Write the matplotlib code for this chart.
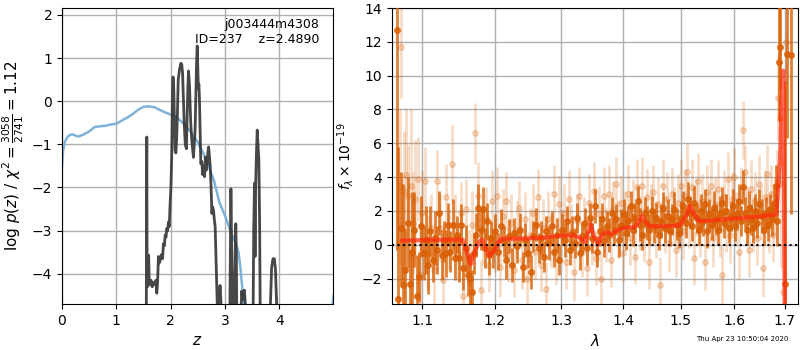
import numpy as np
import matplotlib
matplotlib.use("Agg")
import matplotlib.pyplot as plt
from matplotlib.ticker import NullLocator, FixedLocator, FixedFormatter

# ---------------- Left panel data: log p(z) ----------------
blue_z = [0.0, 0.02, 0.05, 0.1, 0.15, 0.2, 0.25, 0.3, 0.4, 0.5, 0.6, 0.7, 0.8, 0.9,
          1.0, 1.1, 1.2, 1.3, 1.4, 1.5, 1.6, 1.7, 1.8, 1.9, 2.0, 2.1, 2.2, 2.3, 2.4,
          2.5, 2.6, 2.7, 2.8, 2.9, 3.0, 3.1, 3.2, 3.25, 3.28, 3.31, 3.34, 3.37, 3.5,
          4.0, 4.5, 4.9, 4.97, 5.0]
blue_lnp = [-1.5, -1.15, -0.95, -0.83, -0.78, -0.77, -0.8, -0.82, -0.77, -0.7, -0.6,
            -0.58, -0.57, -0.54, -0.52, -0.45, -0.38, -0.3, -0.2, -0.13, -0.12, -0.14,
            -0.2, -0.26, -0.31, -0.37, -0.47, -0.6, -0.76, -0.95, -1.2, -1.5, -1.85,
            -2.35, -2.65, -3.0, -3.3, -3.5, -3.8, -4.2, -4.6, -5.2, -7.0,
            -8.0, -7.5, -5.5, -4.9, -4.5]

black_z = [1.550, 1.556, 1.561, 1.566, 1.575, 1.585, 1.595, 1.605, 1.62, 1.64, 1.66,
           1.69, 1.714, 1.73, 1.745, 1.76, 1.776, 1.79, 1.806, 1.82, 1.837, 1.852,
           1.868, 1.885, 1.90, 1.915, 1.93, 1.945, 1.96, 1.975, 1.99, 2.005, 2.02,
           2.032, 2.04, 2.05, 2.06, 2.072, 2.083, 2.097, 2.11, 2.125, 2.14, 2.165,
           2.19, 2.205, 2.22, 2.235, 2.25, 2.27, 2.29, 2.30, 2.315, 2.33, 2.35, 2.37,
           2.39, 2.42, 2.435, 2.45, 2.465, 2.478, 2.49, 2.50, 2.51, 2.52, 2.53, 2.544,
           2.556, 2.575, 2.59, 2.605, 2.625, 2.64, 2.655, 2.667, 2.685, 2.70, 2.715,
           2.73, 2.745, 2.76, 2.775, 2.79, 2.805, 2.82, 2.835, 2.85, 2.865, 2.88, 2.895,
           2.91, 2.925, 2.94, 2.96, 3.07, 3.09, 3.11, 3.125, 3.14, 3.16, 3.18, 3.20,
           3.21, 3.225, 3.24, 3.27, 3.29, 3.31, 3.325, 3.34, 3.36, 3.375, 3.39, 3.51,
           3.53, 3.545, 3.555, 3.565, 3.58, 3.595, 3.61, 3.625, 3.64, 3.655, 3.67, 3.69,
           3.81, 3.83, 3.86, 3.885, 3.91, 3.93, 3.95, 3.97, 3.99]
black_lnp = [-6.0, -3.0, -0.83, -3.5, -4.3, -4.2, -3.57, -4.1, -4.25, -4.15, -4.3,
             -4.2, -4.25, -4.15, -4.45, -4.2, -3.6, -3.75, -3.7, -3.6, -3.55, -3.65,
             -3.3, -3.35, -3.1, -3.15, -2.95, -3.0, -2.8, -2.9, -2.4, -2.0, -1.3,
             -0.2, 0.56, 0.55, 0.2, -0.6, -1.15, -1.2, -0.9, -0.3, 0.5, 0.75,
             0.88, 0.85, 0.65, 0.1, -0.5, -1.0, -1.1, -0.6, 0.2, 0.7, 0.3, -0.5,
             -0.9, -1.3, -1.0, -0.7, 0.2, 0.9, 1.28, 0.8, 0.3, 0.4, 0.1, -0.75,
             -1.45, -1.4, -1.7, -1.5, -1.75, -1.3, -1.6, -1.5, -1.2, -1.06, -1.3,
             -1.52, -2.0, -2.6, -2.45, -2.53, -2.75, -2.9, -3.6, -4.3, -5.0, -5.5, -4.6,
             -4.27, -4.6, -5.5, -6.5, -6.5, -5.0, -2.03, -3.5, -6.0, -6.0, -4.0, -2.84,
             -3.5, -6.0, -6.5, -6.5, -5.0, -4.4, -4.6, -4.5, -4.38, -4.7, -6.5, -6.5,
             -3.0, -1.9, -3.6, -2.0, -1.2, -0.67, -1.0, -1.37, -3.0, -6.0, -6.5, -6.5,
             -6.5, -5.0, -3.85, -3.65, -3.65, -3.9, -4.6, -6.0, -6.5]

# ---------------- Right panel data: spectrum ----------------
wave_dark = [1.067, 1.069, 1.072, 1.075, 1.078, 1.081, 1.084, 1.087, 1.090, 1.093,
             1.096, 1.099, 1.102, 1.105, 1.108, 1.111, 1.114, 1.117, 1.120, 1.123,
             1.126, 1.129, 1.132, 1.135, 1.138, 1.141, 1.144, 1.147, 1.150, 1.153,
             1.156, 1.159, 1.162, 1.165, 1.168, 1.171, 1.174, 1.177, 1.180, 1.183,
             1.186, 1.189, 1.192, 1.195, 1.198, 1.201, 1.205, 1.209, 1.213, 1.217,
             1.221, 1.225, 1.229, 1.233, 1.237, 1.241, 1.245, 1.249, 1.253, 1.257,
             1.261, 1.265, 1.269, 1.273, 1.277, 1.281, 1.285, 1.289, 1.293, 1.297,
             1.301, 1.305, 1.309, 1.313, 1.317, 1.321, 1.325, 1.329, 1.333, 1.337,
             1.341, 1.345, 1.349, 1.353, 1.357, 1.361, 1.365, 1.369, 1.373, 1.377,
             1.381, 1.385, 1.389, 1.393, 1.397, 1.401, 1.405, 1.409, 1.413, 1.417,
             1.421, 1.425, 1.429, 1.433, 1.437, 1.441, 1.445, 1.449, 1.453, 1.457,
             1.461, 1.465, 1.469, 1.473, 1.477, 1.481, 1.485, 1.489, 1.493, 1.497,
             1.501, 1.505, 1.509, 1.513, 1.517, 1.521, 1.525, 1.529, 1.533, 1.537,
             1.541, 1.545, 1.549, 1.553, 1.557, 1.561, 1.565, 1.569, 1.573, 1.577,
             1.581, 1.585, 1.589, 1.593, 1.597, 1.601, 1.605, 1.609, 1.613, 1.617,
             1.621, 1.625, 1.629, 1.633, 1.637, 1.641, 1.645, 1.649, 1.653, 1.657,
             1.661, 1.665, 1.669, 1.673, 1.677, 1.681, 1.685, 1.688, 1.691, 1.700,
             1.705, 1.713]
flux_dark = [12.7, -3.2, 1.0, -2.4, -1.5, 1.3, -2.3, -0.4, 0.9, -3.0,
             -1.9, 1.1, -0.5, 0.3, -1.2, 0.8, -0.9, 0.4, -0.3, 1.9,
             -0.6, 0.2, -0.5, 1.2, -0.4, 1.2, -0.8, 0.6, -0.8, 1.2,
             -1.4, -0.2, -1.8, -2.0, -2.8, -0.5, 0.6, 2.2, 0.9, 2.1,
             -0.2, 1.4, -0.6, 0.4, -0.3, 0.8, -0.4, 1.1, 0.2, -0.9,
             0.5, -1.2, 0.7, -0.1, 0.9, -1.3, 0.3, -0.5, -1.6, 0.5,
             1.2, -0.2, 0.4, -0.7, 0.8, 0.1, 1.1, -0.4, 0.6, -0.9,
             0.9, 0.3, 1.4, -0.3, 0.7, 0.1, 1.6, -0.5, 0.5, 1.3,
             -0.2, 1.6, 0.4, 2.3, -0.4, 0.8, 1.5, 0.2, 1.1, 0.6,
             1.9, 0.9, 1.5, 0.3, 1.2, 1.8, 0.7, 1.4, 2.3, 0.9,
             1.6, 2.6, 1.2, 0.6, 1.9, 1.3, 0.9, 2.0, 1.1, 1.6,
             0.6, 1.4, 2.2, 1.0, 1.7, 0.8, 1.5, 2.1, 1.2, 0.7,
             1.6, 2.3, 1.3, 2.7, 1.9, 1.1, 2.5, 1.6, 0.9, 2.0,
             1.4, 2.4, 0.8, 1.8, 1.2, 2.2, 1.5, 0.9, 1.9, 2.5,
             1.3, 2.0, 1.0, 1.7, 2.3, 1.1, 1.8, 2.6, 1.4, 3.4,
             1.9, 0.9, 2.2, 1.5, 1.0, 2.0, 1.3, 2.4, 1.7, 0.9,
             1.9, 1.2, 2.1, 1.5, 2.5, 3.5, 1.4, 10.8, 11.7, -2.3,
             11.3, 11.2]
err_dark = [13.0, 9.0, 3.3, 6.0, 2.5, 2.7, 2.0, 3.5, 2.2, 2.4,
            1.5, 1.8, 1.6, 2.0, 1.7, 1.5, 1.3, 1.6, 1.4, 1.3,
            1.5, 1.2, 1.4, 1.3, 1.2, 1.5, 1.3, 1.1, 1.4, 1.2,
            1.3, 1.4, 1.2, 1.5, 1.3, 1.2, 1.3, 1.4, 1.2, 1.3,
            1.2, 1.1, 1.2, 1.0, 1.1, 1.0, 1.1, 1.0, 0.9, 1.1,
            1.0, 1.0, 0.9, 1.0, 1.0, 0.9, 1.0, 0.9, 1.0, 0.9,
            1.0, 0.9, 1.0, 0.9, 0.9, 1.0, 0.9, 0.9, 1.0, 0.9,
            0.9, 1.0, 0.9, 0.9, 1.0, 0.9, 0.9, 1.0, 0.9, 0.9,
            1.0, 0.9, 0.9, 1.0, 0.9, 0.9, 1.0, 0.9, 0.9, 1.0,
            0.9, 0.9, 0.9, 1.0, 0.9, 0.9, 1.0, 0.9, 0.9, 1.0,
            0.9, 0.9, 1.0, 0.9, 0.9, 1.0, 0.9, 0.9, 1.0, 0.9,
            0.9, 1.0, 0.9, 0.9, 1.0, 0.9, 0.9, 1.0, 0.9, 0.9,
            1.0, 0.9, 0.9, 1.0, 0.9, 0.9, 1.0, 0.9, 0.9, 1.0,
            0.9, 0.9, 1.0, 0.9, 0.9, 1.0, 0.9, 0.9, 1.0, 0.9,
            0.9, 1.0, 0.9, 0.9, 1.0, 0.9, 0.9, 1.0, 0.9, 1.0,
            0.9, 0.9, 1.0, 0.9, 0.9, 1.0, 0.9, 0.9, 1.0, 0.9,
            0.9, 1.0, 0.9, 1.0, 1.1, 1.2, 1.5, 3.5, 2.5, 12.0,
            5.0, 9.4]

wave_light = [1.071, 1.073, 1.076, 1.079, 1.082, 1.085, 1.088, 1.091, 1.094, 1.097,
              1.100, 1.104, 1.108, 1.112, 1.116, 1.120, 1.124, 1.128, 1.132, 1.136,
              1.140, 1.144, 1.148, 1.152, 1.156, 1.160, 1.164, 1.168, 1.172, 1.176,
              1.180, 1.184, 1.188, 1.192, 1.196, 1.200, 1.204, 1.208, 1.212, 1.216,
              1.220, 1.224, 1.228, 1.232, 1.236, 1.240, 1.244, 1.248, 1.252, 1.256,
              1.260, 1.264, 1.268, 1.272, 1.276, 1.280, 1.284, 1.288, 1.292, 1.296,
              1.300, 1.304, 1.308, 1.312, 1.316, 1.320, 1.324, 1.328, 1.332, 1.336,
              1.340, 1.344, 1.348, 1.352, 1.356, 1.360, 1.364, 1.368, 1.372, 1.376,
              1.380, 1.384, 1.388, 1.392, 1.396, 1.400, 1.404, 1.408, 1.412, 1.416,
              1.420, 1.424, 1.428, 1.432, 1.436, 1.440, 1.444, 1.448, 1.452, 1.456,
              1.460, 1.464, 1.468, 1.472, 1.476, 1.480, 1.484, 1.488, 1.492, 1.496,
              1.500, 1.504, 1.508, 1.512, 1.516, 1.520, 1.524, 1.528, 1.532, 1.536,
              1.540, 1.544, 1.548, 1.552, 1.556, 1.560, 1.564, 1.568, 1.572, 1.576,
              1.580, 1.584, 1.588, 1.592, 1.596, 1.600, 1.604, 1.608, 1.612, 1.616,
              1.620, 1.624, 1.628, 1.632, 1.636, 1.640, 1.644, 1.648, 1.652, 1.656,
              1.660, 1.664, 1.668, 1.672, 1.676, 1.680, 1.684, 1.687, 1.690, 1.693,
              1.697, 1.702]
flux_light = [3.5, 11.7, 3.2, 4.1, 2.9, 3.5, 1.3, 2.7, 3.9, -1.7,
              1.9, 3.8, -0.5, 1.0, -1.5, 3.8, 1.0, -2.1, 2.8, 0.3,
              4.8, 1.2, -0.5, 1.9, -3.0, 2.1, -0.8, 1.2, 6.6, 2.9,
              -2.7, 0.5, 1.6, -1.2, 2.6, 0.0, 2.9, -1.3, 1.7, 2.6,
              -0.6, 1.3, -1.5, 0.9, 2.2, -0.9, 1.5, -2.0, 0.6, 1.9,
              -0.4, 2.8, -1.2, 1.0, -2.6, 1.5, 0.2, 3.0, -0.8, 2.4,
              0.5, 1.9, -1.0, 2.7, 0.8, -1.6, 1.4, 2.9, -0.3, 1.1,
              -1.4, 2.5, 0.4, 3.2, -0.8, 1.8, -2.0, 2.9, 0.6, 3.0,
              -0.9, 2.1, 3.6, 0.9, 2.5, -0.5, 1.6, 3.0, 0.4, 2.2,
              -0.7, 3.4, 1.3, 3.5, 0.6, 2.8, -1.0, 1.9, 3.1, 0.9,
              2.4, -2.4, 3.5, 1.2, 2.7, 0.1, 3.0, 1.7, -0.3, 2.5,
              3.5, 0.8, 2.9, 4.3, 1.4, 3.4, -0.8, 2.2, 3.8, 1.0,
              2.6, -1.0, 3.1, 1.6, 3.5, 0.4, 2.4, 3.3, 0.9, -1.8,
              2.8, 1.3, 3.9, 0.6, 2.7, 4.0, 1.5, -0.4, 3.0, 6.8,
              4.3, 1.8, -0.3, 3.3, 1.2, 2.6, 0.4, 3.6, 1.9, -1.4,
              2.8, 4.2, 1.1, 3.0, 0.6, 2.3, 3.8, 8.7, 7.5, 3.6,
              -2.8, 12.0]
err_light = [4.5, 3.0, 3.5, 4.0, 3.0, 4.5, 3.0, 3.5, 2.5, 3.0,
             2.5, 2.0, 2.2, 2.0, 2.2, 1.8, 2.0, 1.8, 2.0, 1.8,
             2.3, 1.8, 1.6, 1.8, 1.6, 1.8, 1.7, 2.0, 1.8, 2.0,
             1.8, 1.7, 1.8, 1.6, 1.8, 1.6, 1.7, 1.8, 1.6, 1.7,
             1.6, 1.7, 1.6, 1.7, 1.6, 1.7, 1.6, 1.7, 1.6, 1.7,
             1.6, 1.7, 1.6, 1.7, 1.6, 1.7, 1.6, 1.7, 1.6, 1.7,
             1.6, 1.7, 1.6, 1.7, 1.6, 1.7, 1.6, 1.7, 1.6, 1.7,
             1.6, 1.7, 1.6, 1.7, 1.6, 1.7, 1.6, 1.7, 1.6, 1.7,
             1.6, 1.7, 1.6, 1.7, 1.6, 1.7, 1.6, 1.7, 1.6, 1.7,
             1.6, 1.7, 1.6, 1.7, 1.6, 1.7, 1.6, 1.7, 1.6, 1.7,
             1.6, 1.7, 1.6, 1.7, 1.6, 1.7, 1.6, 1.7, 1.6, 1.7,
             1.6, 1.7, 1.6, 1.7, 1.6, 1.7, 1.6, 1.7, 1.6, 1.7,
             1.6, 1.7, 1.6, 1.7, 1.6, 1.7, 1.6, 1.7, 1.6, 1.7,
             1.6, 1.7, 1.6, 1.7, 1.6, 1.7, 1.6, 1.7, 1.6, 1.7,
             1.6, 1.7, 1.6, 1.7, 1.6, 1.7, 1.6, 1.7, 1.6, 1.7,
             1.6, 1.7, 1.6, 1.7, 1.6, 1.7, 1.8, 2.5, 4.0, 5.0,
             8.0, 4.0]

model_wave = [1.074, 1.100, 1.130, 1.155, 1.160, 1.166, 1.172, 1.178, 1.182, 1.187,
              1.193, 1.200, 1.206, 1.211, 1.250, 1.280, 1.300, 1.320, 1.330, 1.338,
              1.343, 1.347, 1.352, 1.358, 1.364, 1.369, 1.375, 1.380, 1.390, 1.400,
              1.420, 1.427, 1.432, 1.437, 1.445, 1.470, 1.499, 1.508, 1.517, 1.525,
              1.533, 1.560, 1.600, 1.640, 1.683, 1.690, 1.694, 1.697, 1.700]
model_flux = [0.25, 0.28, 0.3, 0.3, -0.3, -1.15, -0.4, 0.2, 0.3, -0.2,
              -0.65, -0.3, 0.2, 0.35, 0.38, 0.45, 0.55, 0.55, 0.4, 0.15,
              0.8, 1.2, 0.5, 0.0, 0.5, 0.7, 0.75, 0.6, 0.85, 1.0,
              1.05, 1.4, 1.7, 1.4, 1.1, 1.1, 1.15, 1.6, 2.3, 1.8,
              1.4, 1.45, 1.55, 1.65, 1.8, 5.0, 9.0, 10.3, -4.0]

z_ticks = [0, 1, 2, 3, 4]
lam_ticks = [1.1, 1.2, 1.3, 1.4, 1.5, 1.6, 1.7]
lam_labels = ["1.1", "1.2", "1.3", "1.4", "1.5", "1.6", "1.7"]

ORANGE = "#d95f02"

fig = plt.figure(figsize=(8, 3.5), dpi=100)
ax1 = fig.add_axes([62/800, 46/350, 271/800, 296/350])
ax2 = fig.add_axes([392/800, 46/350, 406/800, 296/350])

# Left panel
ax1.plot(blue_z, blue_lnp, color="#7fb2d9", lw=1.8, zorder=2)
ax1.plot(black_z, black_lnp, color="0.2", lw=2.0, alpha=0.9, zorder=3)
ax1.set_xlim(0, 4.99)
ax1.set_ylim(-4.7, 2.16)
ax1.set_xticks(z_ticks)
ax1.grid(True, color="#b0b0b0", lw=1.0)
ax1.set_axisbelow(True)
ax1.set_xlabel(r"$z$", fontsize=11)
ax1.set_ylabel(r"$\log\,p(z)$ / $\chi^2=\frac{3058}{2741}=1.12$", fontsize=11)
ax1.text(0.95, 0.965, "j003444m4308\nID=237    z=2.4890", transform=ax1.transAxes,
         ha="right", va="top", fontsize=9)

# Right panel
ax2.errorbar(wave_light, flux_light, yerr=err_light, fmt="o", color=ORANGE,
             ms=4, elinewidth=2, alpha=0.22, zorder=2)
ax2.errorbar(wave_dark, flux_dark, yerr=err_dark, fmt="o", color=ORANGE,
             ms=4, elinewidth=2, alpha=0.8, zorder=3)
ax2.plot(model_wave, model_flux, color="#ff2a10", lw=3, alpha=0.7, zorder=4)
ax2.axhline(0, color="k", ls=":", lw=1.5, zorder=5)
ax2.set_xscale("log")
ax2.set_xlim(1.061, 1.727)
ax2.set_ylim(-3.5, 14)
ax2.xaxis.set_major_locator(FixedLocator(lam_ticks))
ax2.xaxis.set_major_formatter(FixedFormatter(lam_labels))
ax2.xaxis.set_minor_locator(NullLocator())
ax2.set_yticks([-2, 0, 2, 4, 6, 8, 10, 12, 14])
ax2.grid(True, color="#b0b0b0", lw=1.0)
ax2.set_axisbelow(True)
ax2.set_xlabel(r"$\lambda$", fontsize=11)
ax2.set_ylabel(r"$f_\lambda \times 10^{-19}$", fontsize=10)

fig.text(0.985, 0.031, "Thu Apr 23 10:50:04 2020", ha="right", va="center", fontsize=5)

fig.savefig("out.png", dpi=100)
